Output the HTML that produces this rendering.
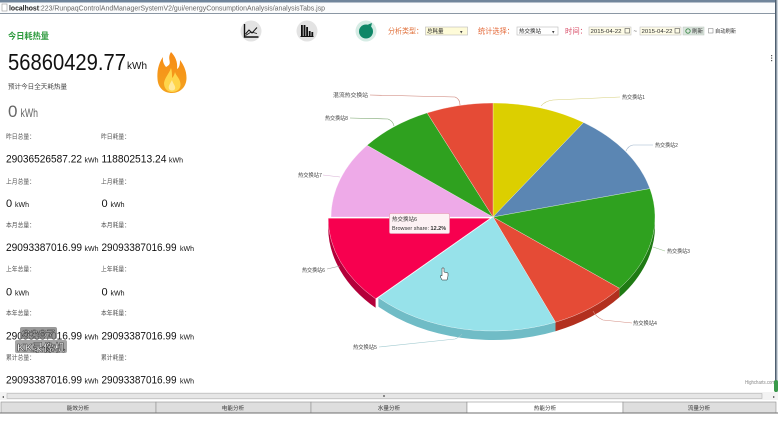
<!DOCTYPE html>
<html><head><meta charset="utf-8">
<style>
html,body{margin:0;padding:0;background:#fff;}
svg{display:block;}
text{font-family:"Liberation Sans","Noto Sans CJK SC",sans-serif;}
</style></head>
<body>
<svg width="778" height="422" viewBox="0 0 778 422" xmlns="http://www.w3.org/2000/svg">
<rect x="0" y="0" width="778" height="422" fill="#fff"/>
<!-- browser top bar -->
<rect x="0" y="0" width="778" height="2.5" fill="#70859b"/>
<rect x="0" y="2.5" width="778" height="10.5" fill="#fbfcfd"/>
<rect x="0" y="13" width="778" height="1" fill="#8b97a4"/>
<rect x="2" y="4" width="5" height="7" fill="#fff" stroke="#999" stroke-width="0.6"/>
<text x="9" y="10.5" font-size="7" fill="#222" font-weight="bold" textLength="30" lengthAdjust="spacingAndGlyphs">localhost</text>
<text x="39" y="10.5" font-size="7" fill="#666" textLength="286" lengthAdjust="spacingAndGlyphs">:223/RunpaqControlAndManagerSystemV2/gui/energyConsumptionAnalysis/analysisTabs.jsp</text>
<!-- right border -->
<rect x="775" y="0" width="1.5" height="400" fill="#4f5f70"/>
<rect x="776.5" y="0" width="1.5" height="400" fill="#cdd5dd"/>
<rect x="771" y="55" width="1.2" height="1.2" fill="#555"/><rect x="771" y="57.5" width="1.2" height="1.2" fill="#555"/><rect x="771" y="60" width="1.2" height="1.2" fill="#555"/>

<!-- icons -->
<circle cx="251" cy="31" r="10.5" fill="#e3e3e3"/>
<path d="M244.5,24 V37 H258.5" stroke="#111" stroke-width="1.4" fill="none"/>
<path d="M245.5,34 L249,30 L252,33 L257,27.5" stroke="#111" stroke-width="1" fill="none"/>
<path d="M245.5,35.5 L251,32 L257,33.5" stroke="#111" stroke-width="0.8" fill="none"/>
<circle cx="307" cy="31" r="10.5" fill="#e3e3e3"/>
<rect x="301" y="25" width="1.8" height="11" fill="#111"/>
<rect x="303.6" y="25" width="1.8" height="11" fill="#111"/>
<rect x="306.2" y="27" width="1.8" height="9" fill="#111"/>
<rect x="308.8" y="31" width="1.8" height="5" fill="#111"/>
<rect x="311.4" y="32" width="1.8" height="4" fill="#111"/>
<rect x="300.5" y="36" width="13" height="1" fill="#111"/>
<circle cx="366" cy="31" r="10.5" fill="#d6ece5"/>
<circle cx="366" cy="31.5" r="7" fill="#0f8767"/>
<path d="M368,24.5 L372,23 L371,27 Z" fill="#0f8767"/>

<!-- toolbar -->
<text x="388" y="33.5" font-size="7.5" fill="#e0703a" textLength="35" lengthAdjust="spacingAndGlyphs">分析类型：</text>
<rect x="425.5" y="27" width="42" height="8" fill="#fefbd8" stroke="#b9b9b9" stroke-width="0.6"/>
<text x="427" y="33" font-size="5.5" fill="#222">总耗量</text>
<text x="460" y="33.5" font-size="5" fill="#444">▾</text>
<text x="478" y="33.5" font-size="7.5" fill="#e46a3a" textLength="36" lengthAdjust="spacingAndGlyphs">统计选择：</text>
<rect x="517" y="27" width="41" height="8" fill="#fff" stroke="#b9b9b9" stroke-width="0.6"/>
<text x="519" y="33" font-size="5.5" fill="#222">热交换站</text>
<text x="552" y="33.5" font-size="5" fill="#444">▾</text>
<text x="565" y="33.5" font-size="7.5" fill="#d9506a" textLength="22" lengthAdjust="spacingAndGlyphs">时间：</text>
<rect x="589" y="27" width="42" height="8" fill="#fdfbe6" stroke="#c4c4c4" stroke-width="0.6"/>
<text x="590.5" y="33" font-size="5.3" fill="#333" textLength="31" lengthAdjust="spacingAndGlyphs">2015-04-22</text>
<rect x="625" y="28.5" width="4.5" height="4.5" fill="none" stroke="#555" stroke-width="0.6"/>
<text x="633.5" y="33" font-size="6" fill="#555">~</text>
<rect x="640" y="27" width="41" height="8" fill="#fdfbe6" stroke="#c4c4c4" stroke-width="0.6"/>
<text x="641.5" y="33" font-size="5.3" fill="#333" textLength="31" lengthAdjust="spacingAndGlyphs">2015-04-22</text>
<rect x="675" y="28.5" width="4.5" height="4.5" fill="none" stroke="#555" stroke-width="0.6"/>
<rect x="683" y="27" width="21" height="8" fill="#dbe5dd" stroke="#b8c4bb" stroke-width="0.5"/>
<circle cx="688" cy="31" r="2.2" fill="none" stroke="#3d8a4a" stroke-width="0.9"/>
<text x="692" y="33" font-size="5.5" fill="#333">刷新</text>
<rect x="708.5" y="28.5" width="4.5" height="4.5" fill="#fff" stroke="#777" stroke-width="0.5"/>
<text x="715" y="33" font-size="5.5" fill="#333" textLength="21" lengthAdjust="spacingAndGlyphs">自动刷新</text>

<!-- left panel -->
<text x="8" y="39" font-size="8.5" font-weight="bold" fill="#2c9a3c" textLength="41" lengthAdjust="spacingAndGlyphs">今日耗热量</text>
<text x="8" y="70" font-size="23" fill="#111" textLength="118" lengthAdjust="spacingAndGlyphs">56860429.77</text>
<text x="127" y="69" font-size="10.5" fill="#111" textLength="20" lengthAdjust="spacingAndGlyphs">kWh</text>
<text x="8" y="88.5" font-size="6.5" fill="#444" textLength="59" lengthAdjust="spacingAndGlyphs">预计今日全天耗热量</text>
<text x="8" y="117" font-size="17" fill="#666">0</text>
<text x="20.5" y="117" font-size="12" fill="#666" textLength="17.5" lengthAdjust="spacingAndGlyphs">kWh</text>

<!-- flame -->
<defs>
<linearGradient id="fg" x1="0" y1="0" x2="0" y2="1">
<stop offset="0" stop-color="#f78b16"/><stop offset="1" stop-color="#f4a21e"/>
</linearGradient>
</defs>
<path d="M171,52 C166,60 174,63 166,67 C162,62 163,59 163,57 C158,64 157,72 157.5,79 C158,88 164,93 172,93 C180,93 186.5,87 186.5,78 C186.5,70 183,64 180,60 C180,65 179,68 177,69 C178,62 175,56 171,52 Z" fill="url(#fg)"/>
<path d="M171,68 C169,74 165,77 164,83 C164,89 168,92 172,92 C177,92 181,89 180.5,84 C180,78 176,76 175,72 C174,76 173,77 172,78 C172,74 172,71 171,68 Z" fill="#ffd54a"/>
<path d="M172,80 C170,84 168,86 169,89 C170,91 174,91 175,89 C176,86 173,84 172,80 Z" fill="#ffeaa0"/>

<g font-size="6.3" fill="#555">
<text x="6" y="138.5" textLength="29" lengthAdjust="spacingAndGlyphs">昨日总量：</text>
<text x="101" y="138.5" textLength="29" lengthAdjust="spacingAndGlyphs">昨日耗量：</text>
<text x="6" y="183.5" textLength="29" lengthAdjust="spacingAndGlyphs">上月总量：</text>
<text x="101" y="183.5" textLength="29" lengthAdjust="spacingAndGlyphs">上月耗量：</text>
<text x="6" y="227" textLength="29" lengthAdjust="spacingAndGlyphs">本月总量：</text>
<text x="101" y="227" textLength="29" lengthAdjust="spacingAndGlyphs">本月耗量：</text>
<text x="6" y="271" textLength="29" lengthAdjust="spacingAndGlyphs">上年总量：</text>
<text x="101" y="271" textLength="29" lengthAdjust="spacingAndGlyphs">上年耗量：</text>
<text x="6" y="315" textLength="29" lengthAdjust="spacingAndGlyphs">本年总量：</text>
<text x="101" y="315" textLength="29" lengthAdjust="spacingAndGlyphs">本年耗量：</text>
<text x="6" y="359.5" textLength="29" lengthAdjust="spacingAndGlyphs">累计总量：</text>
<text x="101" y="359.5" textLength="29" lengthAdjust="spacingAndGlyphs">累计耗量：</text>
</g>
<g fill="#111">
<text x="6" y="162.5" font-size="11" textLength="76" lengthAdjust="spacingAndGlyphs">29036526587.22</text>
<text x="84.5" y="162.5" font-size="7" textLength="14" lengthAdjust="spacingAndGlyphs">kWh</text>
<text x="101.5" y="162.5" font-size="11" textLength="65" lengthAdjust="spacingAndGlyphs">118802513.24</text>
<text x="169" y="162.5" font-size="7" textLength="14" lengthAdjust="spacingAndGlyphs">kWh</text>

<text x="6" y="207" font-size="11">0</text>
<text x="15" y="207" font-size="7" textLength="14" lengthAdjust="spacingAndGlyphs">kWh</text>
<text x="101.5" y="207" font-size="11">0</text>
<text x="110.5" y="207" font-size="7" textLength="14" lengthAdjust="spacingAndGlyphs">kWh</text>

<text x="6" y="251" font-size="11" textLength="76" lengthAdjust="spacingAndGlyphs">29093387016.99</text>
<text x="84.5" y="251" font-size="7" textLength="14" lengthAdjust="spacingAndGlyphs">kWh</text>
<text x="101.5" y="251" font-size="11" textLength="75" lengthAdjust="spacingAndGlyphs">29093387016.99</text>
<text x="180" y="251" font-size="7" textLength="14" lengthAdjust="spacingAndGlyphs">kWh</text>

<text x="6" y="295.5" font-size="11">0</text>
<text x="15" y="295.5" font-size="7" textLength="14" lengthAdjust="spacingAndGlyphs">kWh</text>
<text x="101.5" y="295.5" font-size="11">0</text>
<text x="110.5" y="295.5" font-size="7" textLength="14" lengthAdjust="spacingAndGlyphs">kWh</text>

<text x="6" y="339.5" font-size="11" textLength="76" lengthAdjust="spacingAndGlyphs">29093387016.99</text>
<text x="84.5" y="339.5" font-size="7" textLength="14" lengthAdjust="spacingAndGlyphs">kWh</text>
<text x="101.5" y="339.5" font-size="11" textLength="75" lengthAdjust="spacingAndGlyphs">29093387016.99</text>
<text x="180" y="339.5" font-size="7" textLength="14" lengthAdjust="spacingAndGlyphs">kWh</text>

<text x="6" y="383.5" font-size="11" textLength="76" lengthAdjust="spacingAndGlyphs">29093387016.99</text>
<text x="84.5" y="383.5" font-size="7" textLength="14" lengthAdjust="spacingAndGlyphs">kWh</text>
<text x="101.5" y="383.5" font-size="11" textLength="75" lengthAdjust="spacingAndGlyphs">29093387016.99</text>
<text x="180" y="383.5" font-size="7" textLength="14" lengthAdjust="spacingAndGlyphs">kWh</text>
</g>
<!-- watermark -->
<rect x="20" y="327" width="37" height="12" rx="2" fill="#777" opacity="0.75"/>
<text x="22" y="337" font-size="10" fill="#eee" stroke="#333" stroke-width="0.4" textLength="33" lengthAdjust="spacingAndGlyphs">3387</text>
<rect x="15" y="340" width="52" height="13" rx="2" fill="#888" opacity="0.75"/>
<text x="17" y="351" font-size="10.5" font-weight="bold" fill="#f4f4f4" stroke="#333" stroke-width="0.5" textLength="48" lengthAdjust="spacingAndGlyphs">KK录像机</text>

<!-- pie sides -->
<g>
<path d="M655,217 A162,114 0 0 1 619.4,288.3 L619.4,297.3 A162,114 0 0 0 655,226 Z" fill="#1f7a14"/>
<path d="M619.4,288.3 A162,114 0 0 1 555.5,322.2 L555.5,331.2 A162,114 0 0 0 619.4,297.3 Z" fill="#b2301f"/>
<path d="M555.5,322.2 A162,114 0 0 1 378.4,297.6 L378.4,306.6 A162,114 0 0 0 555.5,331.2 Z" fill="#70bcc6"/>
<path d="M375.6,298.8 A162,114 0 0 1 328.2,218.2 L328.2,227.2 A162,114 0 0 0 375.6,307.8 Z" fill="#b3003a"/>
</g>
<!-- pie tops -->
<g stroke="#fff" stroke-width="0.3">
<path d="M493,217 L493,103 A162,114 0 0 1 583.6,122.5 Z" fill="#dccf00"/>
<path d="M493,217 L583.6,122.5 A162,114 0 0 1 649.9,188.6 Z" fill="#5b86b3"/>
<path d="M493,217 L649.9,188.6 A162,114 0 0 1 619.4,288.3 Z" fill="#2fa11f"/>
<path d="M493,217 L619.4,288.3 A162,114 0 0 1 555.5,322.2 Z" fill="#e54b36"/>
<path d="M493,217 L555.5,322.2 A162,114 0 0 1 378.4,297.6 Z" fill="#97e2ea"/>
<path d="M493,217 L331,217 A162,114 0 0 1 367.1,145.3 Z" fill="#eeaae8"/>
<path d="M493,217 L367.1,145.3 A162,114 0 0 1 427.1,112.9 Z" fill="#2fa11f"/>
<path d="M493,217 L427.1,112.9 A162,114 0 0 1 493,103 Z" fill="#e54b36"/>
<path d="M490.2,218.2 L375.6,298.8 A162,114 0 0 1 328.2,218.2 Z" fill="#f7004f"/>
</g>

<!-- connectors -->
<g fill="none" stroke-width="0.6">
<path d="M370,95 L455,97 Q460,99 460,105" stroke="#c97a6e"/>
<path d="M350,118 L388,119 Q393,121 394,126" stroke="#7aa56e"/>
<path d="M323,175 L340,177" stroke="#d8b0d4"/>
<path d="M327,269 L340,266" stroke="#999"/>
<path d="M379,347 L455,339 Q460,337 462,334" stroke="#9fc9cf"/>
<path d="M632,323 L603,320 Q596,317 593,311" stroke="#d38d82"/>
<path d="M665,251 L653,247" stroke="#9ac28f"/>
<path d="M653,145 L633,145 Q628,146 626,151" stroke="#9eb2c9"/>
<path d="M620,97 L553,100 Q545,101 541,106" stroke="#d6cf7a"/>
</g>
<g font-size="5.6" fill="#444">
<text x="333" y="97" textLength="35" lengthAdjust="spacingAndGlyphs">混流热交换站</text>
<text x="325" y="120" textLength="23" lengthAdjust="spacingAndGlyphs">热交换站8</text>
<text x="298" y="177" textLength="24" lengthAdjust="spacingAndGlyphs">热交换站7</text>
<text x="302" y="272" textLength="23" lengthAdjust="spacingAndGlyphs">热交换站6</text>
<text x="353" y="349" textLength="24" lengthAdjust="spacingAndGlyphs">热交换站5</text>
<text x="633" y="325" textLength="24" lengthAdjust="spacingAndGlyphs">热交换站4</text>
<text x="667" y="253" textLength="23" lengthAdjust="spacingAndGlyphs">热交换站3</text>
<text x="655" y="147" textLength="23" lengthAdjust="spacingAndGlyphs">热交换站2</text>
<text x="622" y="99" textLength="23" lengthAdjust="spacingAndGlyphs">热交换站1</text>
</g>

<!-- tooltip -->
<rect x="389.5" y="213.5" width="60" height="20" rx="1.5" fill="#fdf1f4" stroke="#e8a3bb" stroke-width="0.7"/>
<text x="392" y="221" font-size="5.5" fill="#333">热交换站6</text>
<text x="392" y="230" font-size="5.5" fill="#333">Browser share: <tspan font-weight="bold">12.2%</tspan></text>

<!-- cursor -->
<path d="M442,268 L442,276 L441,275 L440.5,277 L442,280 L447,280 L448,276 L448,273 L444,272 L444,268 Z" fill="#fff" stroke="#222" stroke-width="0.5"/>

<text x="745" y="384" font-size="5" fill="#888" textLength="30" lengthAdjust="spacingAndGlyphs">Highcharts.com</text>

<!-- scrollbar -->
<rect x="0" y="392" width="778" height="8" fill="#f3f3f3"/>
<rect x="7" y="393.5" width="755" height="5" fill="#e6e6e6" stroke="#a9a9a9" stroke-width="0.5"/>
<text x="2" y="398" font-size="4" fill="#444">◂</text>
<text x="773" y="398" font-size="4" fill="#444">▸</text>
<rect x="383" y="395" width="2" height="2" fill="#888"/>
<rect x="774" y="380" width="4" height="12" rx="2" fill="#3a9a4a"/>

<!-- tabs -->
<rect x="0" y="400" width="778" height="2" fill="#fff"/>
<g stroke="#8f8f8f" stroke-width="0.6">
<rect x="1" y="402" width="155" height="11" fill="#dedede"/>
<rect x="156" y="402" width="155" height="11" fill="#dedede"/>
<rect x="311" y="402" width="156" height="11" fill="#dedede"/>
<rect x="467" y="402" width="156" height="11" fill="#ffffff"/>
<rect x="623" y="402" width="153" height="11" fill="#dedede"/>
</g>
<rect x="0" y="412.5" width="778" height="1" fill="#6f6f6f"/>
<g font-size="5.6" fill="#333" text-anchor="middle">
<text x="78" y="410">能效分析</text>
<text x="233" y="410">电能分析</text>
<text x="389" y="410">水量分析</text>
<text x="545" y="410">热能分析</text>
<text x="699" y="410">流量分析</text>
</g>
<rect x="0" y="413.5" width="778" height="8.5" fill="#fff"/>
</svg>
</body></html>
